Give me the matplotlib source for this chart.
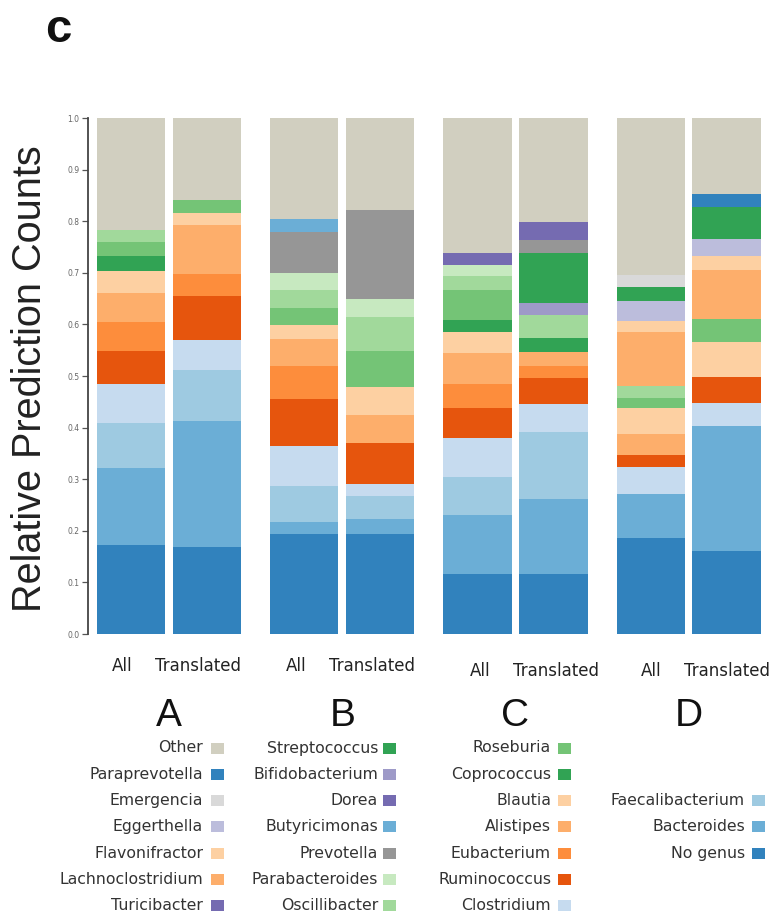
import matplotlib
matplotlib.use("Agg")
import matplotlib.pyplot as plt
from matplotlib.patches import Rectangle
from matplotlib.transforms import blended_transform_factory
import numpy as np

# --- data -------------------------------------------------------------
groups = ["A", "B", "C", "D"]
conditions = ["All", "Translated"]

# genera in each bar, bottom to top, with their share of predictions
a_all_genus = ["No genus", "Bacteroides", "Faecalibacterium", "Clostridium", "Ruminococcus",
               "Eubacterium", "Alistipes", "Blautia", "Coprococcus", "Roseburia",
               "Oscillibacter", "Other"]
a_all_vals = [0.173, 0.148, 0.087, 0.077, 0.063, 0.057, 0.055, 0.043, 0.029, 0.027, 0.023, 0.218]

a_tr_genus = ["No genus", "Bacteroides", "Faecalibacterium", "Clostridium", "Ruminococcus",
              "Eubacterium", "Alistipes", "Blautia", "Roseburia", "Other"]
a_tr_vals = [0.169, 0.243, 0.100, 0.057, 0.087, 0.041, 0.095, 0.023, 0.027, 0.158]

b_all_genus = ["No genus", "Bacteroides", "Faecalibacterium", "Clostridium", "Ruminococcus",
               "Eubacterium", "Alistipes", "Blautia", "Roseburia", "Oscillibacter",
               "Parabacteroides", "Prevotella", "Butyricimonas", "Other"]
b_all_vals = [0.193, 0.024, 0.070, 0.078, 0.091, 0.063, 0.052, 0.027, 0.033, 0.035, 0.034,
              0.080, 0.025, 0.195]

b_tr_genus = ["No genus", "Bacteroides", "Faecalibacterium", "Clostridium", "Ruminococcus",
              "Alistipes", "Blautia", "Roseburia", "Oscillibacter", "Parabacteroides",
              "Prevotella", "Other"]
b_tr_vals = [0.193, 0.029, 0.046, 0.023, 0.080, 0.054, 0.053, 0.071, 0.065, 0.035, 0.173, 0.178]

c_all_genus = ["No genus", "Bacteroides", "Faecalibacterium", "Clostridium", "Ruminococcus",
               "Eubacterium", "Alistipes", "Blautia", "Coprococcus", "Roseburia",
               "Oscillibacter", "Parabacteroides", "Dorea", "Other"]
c_all_vals = [0.117, 0.113, 0.075, 0.074, 0.059, 0.047, 0.059, 0.042, 0.023, 0.057, 0.027,
              0.022, 0.023, 0.262]

c_tr_genus = ["No genus", "Bacteroides", "Faecalibacterium", "Clostridium", "Ruminococcus",
              "Eubacterium", "Alistipes", "Coprococcus", "Oscillibacter", "Bifidobacterium",
              "Streptococcus", "Prevotella", "Dorea", "Other"]
c_tr_vals = [0.117, 0.144, 0.131, 0.053, 0.051, 0.024, 0.027, 0.027, 0.045, 0.023, 0.097,
             0.025, 0.035, 0.201]

d_all_genus = ["No genus", "Bacteroides", "Clostridium", "Ruminococcus", "Alistipes", "Blautia",
               "Roseburia", "Oscillibacter", "Lachnoclostridium", "Flavonifractor",
               "Eggerthella", "Streptococcus", "Emergencia", "Other"]
d_all_vals = [0.186, 0.085, 0.052, 0.024, 0.041, 0.050, 0.020, 0.022, 0.106, 0.021, 0.038,
              0.028, 0.023, 0.304]

d_tr_genus = ["No genus", "Bacteroides", "Clostridium", "Ruminococcus", "Blautia", "Roseburia",
              "Lachnoclostridium", "Flavonifractor", "Eggerthella", "Streptococcus",
              "Paraprevotella", "Other"]
d_tr_vals = [0.161, 0.242, 0.044, 0.051, 0.068, 0.044, 0.095, 0.027, 0.034, 0.061, 0.025, 0.148]

bars = [(a_all_genus, a_all_vals), (a_tr_genus, a_tr_vals),
        (b_all_genus, b_all_vals), (b_tr_genus, b_tr_vals),
        (c_all_genus, c_all_vals), (c_tr_genus, c_tr_vals),
        (d_all_genus, d_all_vals), (d_tr_genus, d_tr_vals)]

legend_order = ["Other", "Paraprevotella", "Emergencia", "Eggerthella", "Flavonifractor",
                "Lachnoclostridium", "Turicibacter",
                "Streptococcus", "Bifidobacterium", "Dorea", "Butyricimonas", "Prevotella",
                "Parabacteroides", "Oscillibacter",
                "Roseburia", "Coprococcus", "Blautia", "Alistipes", "Eubacterium",
                "Ruminococcus", "Clostridium",
                "Faecalibacterium", "Bacteroides", "No genus"]

# --- styles -----------------------------------------------------------
colors = {
    "Other": "#d1cfc0", "Paraprevotella": "#3182bd", "Emergencia": "#d9d9d9",
    "Eggerthella": "#bcbddc", "Flavonifractor": "#fdd0a2", "Lachnoclostridium": "#fdae6b",
    "Turicibacter": "#756bb1", "Streptococcus": "#31a354", "Bifidobacterium": "#9e9ac8",
    "Dorea": "#756bb1", "Butyricimonas": "#6baed6", "Prevotella": "#969696",
    "Parabacteroides": "#c7e9c0", "Oscillibacter": "#a1d99b", "Roseburia": "#74c476",
    "Coprococcus": "#31a354", "Blautia": "#fdd0a2", "Alistipes": "#fdae6b",
    "Eubacterium": "#fd8d3c", "Ruminococcus": "#e6550d", "Clostridium": "#c6dbef",
    "Faecalibacterium": "#9ecae1", "Bacteroides": "#6baed6", "No genus": "#3182bd",
}

W, H = 776, 919
GROUP_STEP = 2.28
BAR_W = 0.9

fig = plt.figure(figsize=(W / 100, H / 100), dpi=100)
ax = fig.add_axes([88 / W, 1 - 634 / H, (770 - 88) / W, (634 - 118) / H])

xs = []
for i, (genus, vals) in enumerate(bars):
    x = (i // 2) * GROUP_STEP + (i % 2)
    xs.append(x)
    bottom = 0.0
    for g, v in zip(genus, vals):
        ax.bar(x, v, BAR_W, bottom=bottom, color=colors[g], linewidth=0)
        bottom += v

ax.set_xlim(-0.566, 8.41)
ax.set_ylim(0, 1.0)
ax.set_xticks([])
ax.set_yticks(np.arange(0, 1.01, 0.1))
ax.set_yticklabels([f"{t:.1f}" for t in np.arange(0, 1.01, 0.1)])
ax.tick_params(axis="y", length=4, width=0.9, color="#555555", labelsize=5.5,
               labelcolor="#666666", pad=2)
for s in ["top", "right", "bottom"]:
    ax.spines[s].set_visible(False)
ax.spines["left"].set_color("#444444")
ax.spines["left"].set_linewidth(1.3)

# condition labels under bars (A/B sit slightly higher and left)
trans = blended_transform_factory(ax.transData, fig.transFigure)
label_shift = [-0.12, -0.11, 0.04, 0.0]
label_y = [666, 666, 671, 671]
for i, x in enumerate(xs):
    g = i // 2
    ax.text(x + label_shift[g], 1 - label_y[g] / H, conditions[i % 2], transform=trans,
            ha="center", va="center", fontsize=12, color="#222222", family="DejaVu Sans")

for g, name in enumerate(groups):
    cx = g * GROUP_STEP + 0.5
    ax.text(cx, 1 - 716 / H, name, transform=trans, ha="center", va="center",
            fontsize=28, color="#111111", family="Liberation Sans")

# legend: four columns of genus names with colour squares
col_text_right = [203, 378, 551, 745]
col_square_left = [211, 383, 558, 752]
col_first_row = [0, 0, 0, 2]
row_y0, row_step = 748, 26.3
for k, name in enumerate(legend_order):
    col = min(k // 7, 3)
    row = k - col * 7 + col_first_row[col]
    y = row_y0 + row * row_step
    fig.text(col_text_right[col] / W, 1 - y / H, name, ha="right", va="center",
             fontsize=11.3, color="#333333", family="DejaVu Sans")
    fig.patches.append(Rectangle((col_square_left[col] / W, 1 - (y + 5.5) / H), 13 / W, 11 / H,
                                 transform=fig.transFigure, facecolor=colors[name],
                                 edgecolor="none"))

fig.text(58 / W, 1 - 30 / H, "c", ha="center", va="center", fontsize=34,
         fontweight="bold", family="Liberation Sans", color="#111111")
fig.text(30 / W, 1 - 379 / H, "Relative Prediction Counts", rotation=90, ha="center",
         va="center", fontsize=28.5, family="Liberation Sans", color="#222222")

fig.savefig("out.png", dpi=100)
